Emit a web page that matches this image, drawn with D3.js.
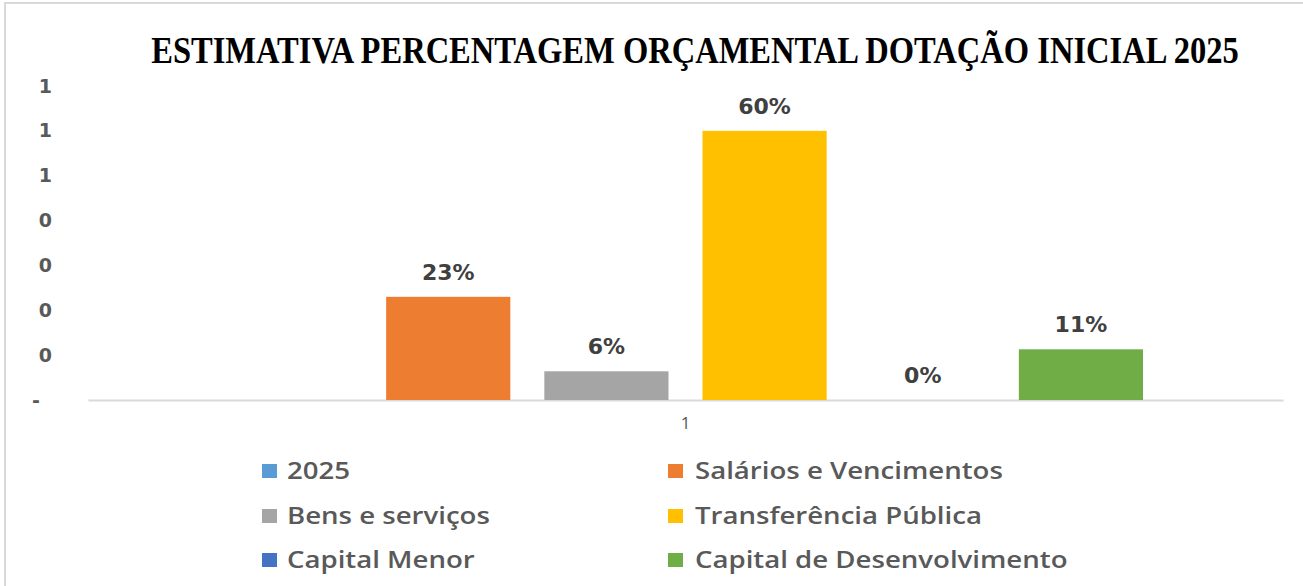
<!doctype html>
<html>
<head>
<meta charset="utf-8">
<script src="https://d3js.org/d3.v7.min.js"></script>
<style>
  body { margin: 0; background: #fff; }
</style>
</head>
<body>
<svg width="1303" height="586"></svg>
<script>
// data
var categories = ["1"];
var seriesNames = ["2025", "Salários e Vencimentos", "Bens e serviços",
                   "Transferência Pública", "Capital Menor", "Capital de Desenvolvimento"];
var seriesValues = [null, 0.23, 0.064, 0.60, 0, 0.113];
var seriesColors = ["#5b9bd5", "#ed7d31", "#a5a5a5", "#ffc000", "#4472c4", "#70ad47"];
var yTickValues = [0, 0.1, 0.2, 0.3, 0.4, 0.5, 0.6, 0.7];
var title = "ESTIMATIVA PERCENTAGEM ORÇAMENTAL DOTAÇÃO INICIAL 2025";

var svg = d3.select("svg");

// light frame of the chart area (only top and left edges visible)
svg.append("rect")
   .attr("x", 5).attr("y", 3)
   .attr("width", 1400).attr("height", 700)
   .attr("fill", "none")
   .attr("stroke", "#d9d9d9")
   .attr("stroke-width", 2);

// condensed serif title: squeeze horizontally to the wanted width
var titleText = svg.append("text")
   .attr("x", 0)
   .attr("y", 0)
   .attr("text-anchor", "middle")
   .attr("font-family", "'Liberation Serif', 'Times New Roman', serif")
   .attr("font-weight", "bold")
   .attr("font-size", "38px")
   .attr("fill", "#000")
   .text(title);
var tw = titleText.node().getComputedTextLength();
titleText.attr("transform", "translate(695,63) scale(" + (1088 / tw) + ",1)");

var x0 = d3.scaleBand().domain(categories).range([88, 1283]);
var x1 = d3.scaleBand().domain(seriesNames)
           .range([0, x0.bandwidth()])
           .paddingInner(0.215)
           .paddingOuter(0.885);
var y = d3.scaleLinear().domain([0, 0.7]).range([400, 86]);

var pct = d3.format(".0%");

// y tick labels (no axis line, no ticks)
var yAxis = svg.append("g")
   .attr("transform", "translate(52,0)")
   .call(d3.axisLeft(y).tickValues(yTickValues).tickSize(0).tickPadding(0)
          .tickFormat(function(d) { return d === 0 ? "-" : d3.format(".0f")(Math.round(d)); }));
yAxis.select(".domain").remove();
yAxis.selectAll("text")
   .style("font-family", "'DejaVu Sans', Verdana, sans-serif")
   .style("font-weight", "bold")
   .style("font-size", "19px")
   .style("fill", "#595959")
   .attr("dx", function(d) { return d === 0 ? -12 : 0; });

// category axis
var xAxis = svg.append("g")
   .attr("transform", "translate(0,400)")
   .call(d3.axisBottom(x0).tickSize(0).tickPadding(17));
xAxis.select(".domain").attr("stroke", "#d9d9d9").attr("stroke-width", 2);
xAxis.selectAll("text")
   .style("font-family", "'Open Sans', sans-serif")
   .style("font-size", "17px")
   .style("fill", "#595959");

var data = seriesNames.map(function(n, i) {
  return { name: n, value: seriesValues[i], color: seriesColors[i] };
});

var g = svg.append("g").attr("transform", "translate(" + x0("1") + ",0)");

g.selectAll(".bar")
 .data(data.filter(function(d) { return d.value !== null; }))
 .enter().append("rect")
 .attr("class", "bar")
 .attr("x", function(d) { return x1(d.name); })
 .attr("y", function(d) { return y(d.value); })
 .attr("width", x1.bandwidth())
 .attr("height", function(d) { return y(0) - y(d.value); })
 .attr("fill", function(d) { return d.color; });

g.selectAll(".lbl")
 .data(data.filter(function(d) { return d.value !== null; }))
 .enter().append("text")
 .attr("class", "lbl")
 .attr("x", function(d) { return x1(d.name) + x1.bandwidth() / 2; })
 .attr("y", function(d) { return y(d.value) - 17; })
 .attr("text-anchor", "middle")
 .attr("font-family", "'DejaVu Sans', Verdana, sans-serif")
 .attr("font-weight", "bold")
 .attr("font-size", "22px")
 .attr("fill", "#404040")
 .text(function(d) { return pct(d.value); });

// legend, two columns
var legend = svg.append("g").selectAll("g")
   .data(data)
   .enter().append("g")
   .attr("transform", function(d, i) {
      var col = i % 2, row = Math.floor(i / 2);
      return "translate(" + (col === 0 ? 262 : 668) + "," + [471, 516, 560][row] + ")";
   });

legend.append("rect")
   .attr("x", 0).attr("y", -7)
   .attr("width", 15).attr("height", 14)
   .attr("fill", function(d) { return d.color; });

legend.append("text")
   .attr("transform", function(d, i) {
      return "translate(" + (i % 2 === 0 ? 25 : 27) + ",0) scale(1.2,1)";
   })
   .attr("dy", "0.36em")
   .attr("font-family", "'Open Sans', sans-serif")
   .attr("font-weight", "600")
   .attr("font-size", "23px")
   .attr("fill", "#595959")
   .text(function(d) { return d.name; });
</script>
</body>
</html>
